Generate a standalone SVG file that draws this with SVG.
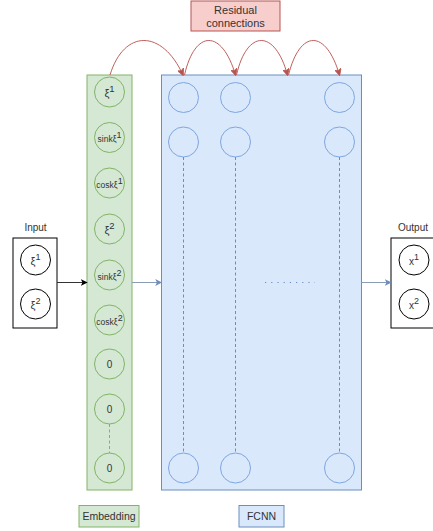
<svg xmlns="http://www.w3.org/2000/svg" width="433" height="531" viewBox="0 0 433 531">
<defs>
<style>
text{font-family:"Liberation Sans",Arial,sans-serif;fill:#333;text-anchor:middle}
.g{fill:#d5e8d4;stroke:#82b366;stroke-width:1}
.gc{fill:none;stroke:#82b366;stroke-width:1}
.b{fill:#dae8fc;stroke:#6c8ebf;stroke-width:1}
.bc{fill:none;stroke:#7ea6e0;stroke-width:1}
.k{fill:#fff;stroke:#000;stroke-width:1}
.kc{fill:none;stroke:#000;stroke-width:1}
.dash{stroke:#6c8ebf;stroke-width:1;stroke-dasharray:3,2.5;fill:none}
.gdash{stroke:#82b366;stroke-width:1;stroke-dasharray:3,2.5;fill:none}
.res{fill:none;stroke:#c0605c;stroke-width:1;marker-end:url(#ar)}
</style>
<marker id="ar" viewBox="0 0 10 10" refX="9" refY="5" markerWidth="7" markerHeight="7" orient="auto" markerUnits="userSpaceOnUse"><path d="M0,0 L10,5 L0,10 L2.5,5 Z" fill="#b85450" stroke="#b85450"/></marker>
<marker id="ak" viewBox="0 0 10 10" refX="9" refY="5" markerWidth="7" markerHeight="7" orient="auto" markerUnits="userSpaceOnUse"><path d="M0,0 L10,5 L0,10 L2.5,5 Z" fill="#000"/></marker>
<marker id="abl" viewBox="0 0 10 10" refX="9" refY="5" markerWidth="7" markerHeight="7" orient="auto" markerUnits="userSpaceOnUse"><path d="M0,0 L10,5 L0,10 L2.5,5 Z" fill="#6c8ebf"/></marker>
</defs>

<g id="residual-label">
<rect x="191" y="1" width="89" height="30" fill="#f8cecc" stroke="#b85450"/>
<text x="235.5" y="14" font-size="11">Residual</text>
<text x="235.5" y="26.5" font-size="11">connections</text>
</g>

<g id="input">
<text x="35.5" y="231" font-size="10">Input</text>
<rect class="k" x="13" y="238" width="44" height="90"/>
<circle class="kc" cx="35.5" cy="260" r="15"/>
<circle class="kc" cx="35.5" cy="304" r="15"/>
<text x="35.5" y="265" font-size="11">ξ<tspan font-size="9" dy="-5">1</tspan></text>
<text x="35.5" y="309" font-size="11">ξ<tspan font-size="9" dy="-5">2</tspan></text>
</g>

<g id="embedding">
<rect class="g" x="87" y="75" width="45" height="415"/>
<circle class="gc" cx="109.5" cy="92" r="15"/>
<circle class="gc" cx="109.5" cy="137.5" r="15"/>
<circle class="gc" cx="109.5" cy="183" r="15"/>
<circle class="gc" cx="109.5" cy="229" r="15"/>
<circle class="gc" cx="109.5" cy="275" r="15"/>
<circle class="gc" cx="109.5" cy="320" r="15"/>
<circle class="gc" cx="109.5" cy="364" r="15"/>
<circle class="gc" cx="109.5" cy="409" r="15"/>
<circle class="gc" cx="109.5" cy="468" r="15"/>
<line class="gdash" x1="109.5" y1="424" x2="109.5" y2="453"/>
<text x="109.5" y="97" font-size="11">ξ<tspan font-size="9.5" dy="-5">1</tspan></text>
<text x="109.5" y="142" font-size="8.5">sinkξ<tspan font-size="9" dy="-4">1</tspan></text>
<text x="109.5" y="188" font-size="8.5">coskξ<tspan font-size="9" dy="-4">1</tspan></text>
<text x="109.5" y="234" font-size="11">ξ<tspan font-size="9.5" dy="-5">2</tspan></text>
<text x="109.5" y="279.5" font-size="8.5">sinkξ<tspan font-size="9" dy="-4">2</tspan></text>
<text x="109.5" y="324.5" font-size="8.5">coskξ<tspan font-size="9" dy="-4">2</tspan></text>
<text x="109.5" y="368" font-size="10">0</text>
<text x="109.5" y="413" font-size="10">0</text>
<text x="109.5" y="472" font-size="10">0</text>
</g>

<g id="fcnn">
<rect class="b" x="161.5" y="75" width="200" height="415"/>
<circle class="bc" cx="183.5" cy="97.5" r="15"/>
<circle class="bc" cx="235.5" cy="97.5" r="15"/>
<circle class="bc" cx="339.5" cy="97.5" r="15"/>
<circle class="bc" cx="183.5" cy="142" r="15"/>
<circle class="bc" cx="235.5" cy="142" r="15"/>
<circle class="bc" cx="339.5" cy="142" r="15"/>
<circle class="bc" cx="183.5" cy="468" r="15"/>
<circle class="bc" cx="235.5" cy="468" r="15"/>
<circle class="bc" cx="339.5" cy="468" r="15"/>
<line class="dash" x1="183.5" y1="157" x2="183.5" y2="453"/>
<line class="dash" x1="235.5" y1="157" x2="235.5" y2="453"/>
<line class="dash" x1="339.5" y1="157" x2="339.5" y2="453"/>
<line x1="265" y1="282.5" x2="315" y2="282.5" stroke="#6c8ebf" stroke-dasharray="1.2,5" stroke-width="1.2"/>
</g>

<g id="output">
<text x="413" y="231" font-size="10">Output</text>
<rect class="k" x="391" y="238" width="50" height="90"/>
<circle class="kc" cx="414" cy="260" r="15"/>
<circle class="kc" cx="414" cy="304" r="15"/>
<text x="414" y="265" font-size="10">x<tspan font-size="9" dy="-5">1</tspan></text>
<text x="414" y="309" font-size="10">x<tspan font-size="9" dy="-5">2</tspan></text>
</g>

<g id="embedding-label">
<rect class="g" x="79" y="505.5" width="60" height="21.5"/>
<text x="109" y="520" font-size="10.5">Embedding</text>
</g>

<g id="fcnn-label">
<rect class="b" x="239" y="505.5" width="45" height="21.5"/>
<text x="261.5" y="520" font-size="10.5">FCNN</text>
</g>

<g id="connectors">
<line x1="57" y1="282.5" x2="87" y2="282.5" stroke="#333" marker-end="url(#ak)"/>
<line x1="132" y1="282.5" x2="161.5" y2="282.5" stroke="#8a9bb5" marker-end="url(#abl)"/>
<line x1="361.5" y1="282.5" x2="391" y2="282.5" stroke="#8a9bb5" marker-end="url(#abl)"/>
<path class="res" d="M110,75 C124,29 162,29 183,75"/>
<path class="res" d="M184.5,75 C195,29 222,29 235.5,75"/>
<path class="res" d="M236.5,75 C247,29 275,29 287.5,75"/>
<path class="res" d="M288.5,75 C300,29 326,29 339.5,75"/>
</g>
</svg>
